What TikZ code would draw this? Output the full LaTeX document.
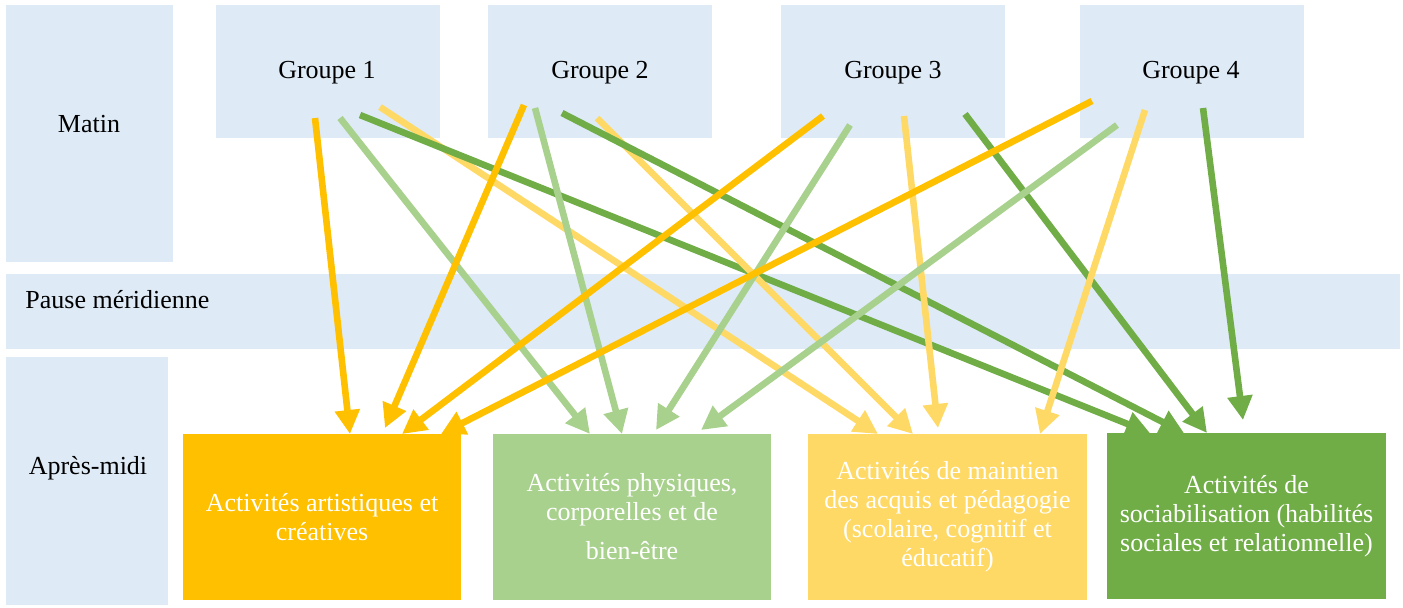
\documentclass[tikz,border=0pt]{standalone}
\usepackage{fontspec}
\setmainfont{Liberation Serif}
\usetikzlibrary{arrows.meta}
\definecolor{lblue}{HTML}{DEEBF7}
\definecolor{corange}{HTML}{FFC000}
\definecolor{clgreen}{HTML}{A9D18E}
\definecolor{cyellow}{HTML}{FFD966}
\definecolor{cgreen}{HTML}{70AD47}
\begin{document}
\begin{tikzpicture}[x=0.5pt,y=-0.5pt,
  bg/.style={fill=lblue, draw=none, inner sep=0pt, outer sep=0pt},
  actbox/.style={draw=none, inner sep=0pt, outer sep=0pt, text=white, align=center,
    font=\fontsize{13}{14.5}\selectfont},
  lbl/.style={text=black, inner sep=0pt, font=\fontsize{13}{14.5}\selectfont},
  con/.style={line width=3.3pt, -{Triangle[length=12pt,width=12pt]}}]
\useasboundingbox (0,0) rectangle (1403,607);
% background boxes
\node[bg, minimum width=83.5pt, minimum height=128.5pt] (matin) at (89.5,133.5) {};
\node[bg, minimum width=697pt, minimum height=37.5pt] (pause) at (703,311.5) {};
\node[bg, minimum width=81pt, minimum height=124pt] (apres) at (87,481) {};
\node[bg, minimum width=112pt, minimum height=66.5pt] (g1) at (328,71.5) {};
\node[bg, minimum width=112pt, minimum height=66.5pt] (g2) at (600,71.5) {};
\node[bg, minimum width=112pt, minimum height=66.5pt] (g3) at (893,71.5) {};
\node[bg, minimum width=112pt, minimum height=66.5pt] (g4) at (1192,71.5) {};
% labels
\node[lbl] (tmatin) at (89,124) {Matin};
\node[lbl, anchor=west] (tpause) at (25,300) {Pause méridienne};
\node[lbl] (tapres) at (88,468) {Après-midi};
\node[lbl] (tg1) at (327,73) {Groupe 1};
\node[lbl] (tg2) at (600,73) {Groupe 2};
\node[lbl] (tg3) at (893,73) {Groupe 3};
\node[lbl] (tg4) at (1191,73) {Groupe 4};
% activity boxes
\node[actbox, fill=corange, minimum width=139pt, minimum height=83pt] (a1) at (322,517)
  {Activités artistiques et\\créatives};
\node[actbox, fill=clgreen, minimum width=139pt, minimum height=83pt] (a2) at (632,517)
  {Activités physiques,\\corporelles et de\\[5pt]bien-être};
\node[actbox, fill=cyellow, minimum width=139.5pt, minimum height=83pt] (a3) at (947.5,517)
  {Activités de maintien\\des acquis et pédagogie\\(scolaire, cognitif et\\éducatif)};
\node[actbox, fill=cgreen, minimum width=139.5pt, minimum height=83pt] (a4) at (1246.5,516)
  {Activités de\\sociabilisation (habilités\\sociales et relationnelle)};
% connector end points
\coordinate (o1s) at (315,118);  \coordinate (o1e) at (350,434);
\coordinate (o2s) at (524,105);  \coordinate (o2e) at (385,428);
\coordinate (o3s) at (823,116);  \coordinate (o3e) at (402,434);
\coordinate (o4s) at (1092,101); \coordinate (o4e) at (441,434);
\coordinate (l1s) at (340,118);  \coordinate (l1e) at (590,434);
\coordinate (l2s) at (535,108);  \coordinate (l2e) at (622,434);
\coordinate (l3s) at (850,125);  \coordinate (l3e) at (656,430);
\coordinate (l4s) at (1117,125); \coordinate (l4e) at (701,430);
\coordinate (y1s) at (380,107);  \coordinate (y1e) at (878,434);
\coordinate (y2s) at (597,118);  \coordinate (y2e) at (913,434);
\coordinate (y3s) at (904,116);  \coordinate (y3e) at (938,428);
\coordinate (y4s) at (1145,110); \coordinate (y4e) at (1040,434);
\coordinate (d1s) at (360,115);  \coordinate (d1e) at (1150,433);
\coordinate (d2s) at (562,113);  \coordinate (d2e) at (1184,433);
\coordinate (d3s) at (965,114);  \coordinate (d3e) at (1207,433);
\coordinate (d4s) at (1203,108); \coordinate (d4e) at (1243,420);
% connectors
\draw[con, corange] (o1s) -- (o1e);
\draw[con, clgreen] (l1s) -- (l1e);
\draw[con, cyellow] (y1s) -- (y1e);
\draw[con, cgreen] (d1s) -- (d1e);
\draw[con, corange] (o2s) -- (o2e);
\draw[con, clgreen] (l2s) -- (l2e);
\draw[con, cyellow] (y2s) -- (y2e);
\draw[con, cgreen] (d2s) -- (d2e);
\draw[con, corange] (o3s) -- (o3e);
\draw[con, clgreen] (l3s) -- (l3e);
\draw[con, cyellow] (y3s) -- (y3e);
\draw[con, cgreen] (d3s) -- (d3e);
\draw[con, corange] (o4s) -- (o4e);
\draw[con, clgreen] (l4s) -- (l4e);
\draw[con, cyellow] (y4s) -- (y4e);
\draw[con, cgreen] (d4s) -- (d4e);
\end{tikzpicture}
\end{document}
